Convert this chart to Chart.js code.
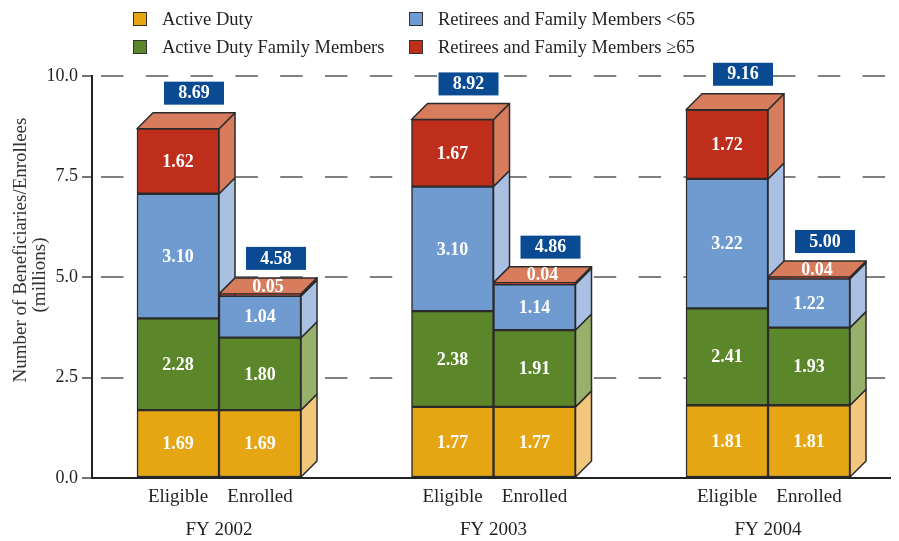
<!DOCTYPE html>
<html>
<head>
<meta charset="utf-8">
<script src="https://cdn.jsdelivr.net/npm/chart.js@4.4.1/dist/chart.umd.min.js"></script>
<style>
  html, body { margin: 0; padding: 0; background: #fff; }
  #wrap { width: 899px; height: 541px; }
</style>
</head>
<body>
<div id="wrap"><canvas id="myChart"></canvas></div>
<script>
// ---------- data ----------
var years = ['FY 2002', 'FY 2003', 'FY 2004'];
var barNames = ['Eligible', 'Enrolled'];
var seriesNames = ['Active Duty', 'Active Duty Family Members',
                   'Retirees and Family Members <65', 'Retirees and Family Members \u226565'];

var eligibleAD        = [1.69, 1.77, 1.81];
var eligibleADFM      = [2.28, 2.38, 2.41];
var eligibleRetUnder65 = [3.10, 3.10, 3.22];
var eligibleRet65     = [1.62, 1.67, 1.72];

var enrolledAD        = [1.69, 1.77, 1.81];
var enrolledADFM      = [1.80, 1.91, 1.93];
var enrolledRetUnder65 = [1.04, 1.14, 1.22];
var enrolledRet65     = [0.05, 0.04, 0.04];

var eligibleTotals = [8.69, 8.92, 9.16];
var enrolledTotals = [4.58, 4.86, 5.00];

var yTicks = [0, 2.5, 5, 7.5, 10];

// ---------- styles ----------
var frontColors = ['#e6a614', '#5b8629', '#6f9bd1', '#bf2e1b'];
var sideColors  = ['#f2c67b', '#97b06c', '#a9c0e3', '#d87c5e'];
var edgeColor = '#2b2b2b';
var textColor = '#231f20';
var boxBlue = '#0a4a93';
var depth = 16;
var serif = "'Liberation Serif', 'Times New Roman', serif";

Chart.defaults.font.family = serif;
Chart.defaults.color = textColor;

function toPoints(arr) {
  return arr.map(function (v, i) { return { x: i, y: v }; });
}

function makeSet(name, values, k, stack) {
  return {
    label: name,
    data: toPoints(values),
    stack: stack,
    backgroundColor: frontColors[k],
    borderColor: edgeColor,
    borderWidth: 1.5,
    borderSkipped: false,
    barThickness: 82
  };
}

var eligibleSets = [eligibleAD, eligibleADFM, eligibleRetUnder65, eligibleRet65];
var enrolledSets = [enrolledAD, enrolledADFM, enrolledRetUnder65, enrolledRet65];

var datasets = [];
eligibleSets.forEach(function (v, k) { datasets.push(makeSet(seriesNames[k], v, k, 'eligible')); });
enrolledSets.forEach(function (v, k) { datasets.push(makeSet(seriesNames[k], v, k, 'enrolled')); });

function poly(ctx, pts, fill) {
  ctx.beginPath();
  ctx.moveTo(pts[0][0], pts[0][1]);
  for (var i = 1; i < pts.length; i++) ctx.lineTo(pts[i][0], pts[i][1]);
  ctx.closePath();
  ctx.fillStyle = fill;
  ctx.fill();
  ctx.stroke();
}

// side + top faces, drawn under the front faces chart.js paints
var fake3d = {
  id: 'fake3d',
  beforeDatasetsDraw: function (chart) {
    var ctx = chart.ctx;
    ctx.save();
    ctx.lineWidth = 1.5;
    ctx.strokeStyle = edgeColor;
    ctx.lineJoin = 'round';
    for (var j = 0; j < years.length; j++) {
      [0, 4].forEach(function (first) {
        for (var k = 0; k < 4; k++) {
          var p = chart.getDatasetMeta(first + k).data[j].getProps(['x', 'y', 'base', 'width'], true);
          var l = p.x - p.width / 2, r = p.x + p.width / 2;
          poly(ctx, [[r, p.base], [r + depth, p.base - depth], [r + depth, p.y - depth], [r, p.y]], sideColors[k]);
          if (k === 3) {
            poly(ctx, [[l, p.y], [r, p.y], [r + depth, p.y - depth], [l + depth, p.y - depth]], sideColors[3]);
          }
        }
      });
    }
    ctx.restore();
  },
  afterDatasetsDraw: function (chart) {
    var ctx = chart.ctx;
    ctx.save();
    ctx.textAlign = 'center';
    ctx.textBaseline = 'middle';
    for (var j = 0; j < years.length; j++) {
      [0, 4].forEach(function (first, b) {
        var top;
        for (var k = 0; k < 4; k++) {
          var ds = chart.data.datasets[first + k];
          var p = chart.getDatasetMeta(first + k).data[j].getProps(['x', 'y', 'base', 'width'], true);
          var val = ds.data[j].y;
          var h = p.base - p.y;
          ctx.font = 'bold 18px ' + serif;
          ctx.fillStyle = '#ffffff';
          if (h > 16) {
            ctx.fillText(val.toFixed(2), p.x, (p.y + p.base) / 2 + 1);
          } else {
            ctx.fillText(val.toFixed(2), p.x + depth / 2, p.y - depth / 2 + 1);
          }
          top = p;
        }
        // total box
        var total = (b === 0 ? eligibleTotals : enrolledTotals)[j];
        var cx = top.x + depth;
        var by = top.y - depth - 8;
        ctx.fillStyle = boxBlue;
        ctx.fillRect(cx - 30, by - 23, 60, 23);
        ctx.fillStyle = '#ffffff';
        ctx.font = 'bold 18px ' + serif;
        ctx.fillText(total.toFixed(2), cx, by - 11);
        // bar name under the axis
        ctx.fillStyle = textColor;
        ctx.font = '19px ' + serif;
        ctx.fillText(barNames[b], top.x, 497);
      });
    }
    ctx.restore();
  },
  afterDraw: function (chart) {
    var ctx = chart.ctx;
    ctx.save();
    // legend, two columns
    var cols = [133, 409];
    var rows = [12, 40];
    var place = [[0, 0], [0, 1], [1, 0], [1, 1]]; // [col,row] for each series
    ctx.font = '18.5px ' + serif;
    ctx.textBaseline = 'alphabetic';
    ctx.textAlign = 'left';
    for (var k = 0; k < 4; k++) {
      var x = cols[place[k][0]], y = rows[place[k][1]];
      ctx.fillStyle = frontColors[k];
      ctx.fillRect(x, y, 13, 13);
      ctx.strokeStyle = '#333';
      ctx.lineWidth = 1;
      ctx.strokeRect(x + 0.5, y + 0.5, 13, 13);
      ctx.fillStyle = textColor;
      ctx.fillText(seriesNames[k], x + 29, y + 12.5);
    }
    // y axis title
    ctx.font = '19px ' + serif;
    ctx.textAlign = 'center';
    ctx.textBaseline = 'middle';
    ctx.fillStyle = '#333';
    ctx.translate(21, 250);
    ctx.rotate(-Math.PI / 2);
    ctx.fillText('Number of Beneficiaries/Enrollees', 0, 0);
    ctx.rotate(Math.PI / 2);
    ctx.translate(19, 25);
    ctx.rotate(-Math.PI / 2);
    ctx.fillText('(millions)', 0, 0);
    ctx.restore();
  }
};

// x is linear so the year groups sit where they do in the picture
var xMin = -0.4627, xMax = 2.4444;

var ctx = document.getElementById('myChart').getContext('2d');
var chart = new Chart(ctx, {
  type: 'bar',
  data: { datasets: datasets },
  options: {
    responsive: true,
    maintainAspectRatio: false,
    animation: false,
    layout: { padding: { top: 76, left: 0, right: 9, bottom: 0 } },
    plugins: { legend: { display: false }, tooltip: { enabled: false } },
    scales: {
      x: {
        type: 'linear',
        stacked: true,
        offset: false,
        min: xMin,
        max: xMax,
        afterBuildTicks: function (scale) {
          scale.ticks = years.map(function (y, i) { return { value: i }; });
        },
        afterFit: function (scale) { scale.height = 63; },
        ticks: {
          autoSkip: false,
          maxRotation: 0,
          padding: 41,
          font: { size: 19 },
          color: textColor,
          callback: function (v) { return years[v]; }
        },
        grid: { display: false, drawTicks: false },
        border: { display: true, color: '#222', width: 2 }
      },
      y: {
        stacked: true,
        min: 0,
        max: 10,
        afterBuildTicks: function (scale) {
          scale.ticks = yTicks.map(function (v) { return { value: v }; });
        },
        afterFit: function (scale) { scale.width = 92; },
        ticks: {
          padding: 4,
          font: { size: 18 },
          color: textColor,
          callback: function (v) { return v.toFixed(1); }
        },
        grid: {
          color: function (c) { return c.tick && c.tick.value === 0 ? 'rgba(0,0,0,0)' : '#808080'; },
          lineWidth: 2,
          drawTicks: true,
          tickLength: 10,
          tickColor: '#444',
          tickWidth: 1.5
        },
        border: { display: true, color: '#222', width: 2, dash: [22.5, 22.3], dashOffset: 36.8 }
      }
    }
  },
  plugins: [fake3d]
});
</script>
</body>
</html>
